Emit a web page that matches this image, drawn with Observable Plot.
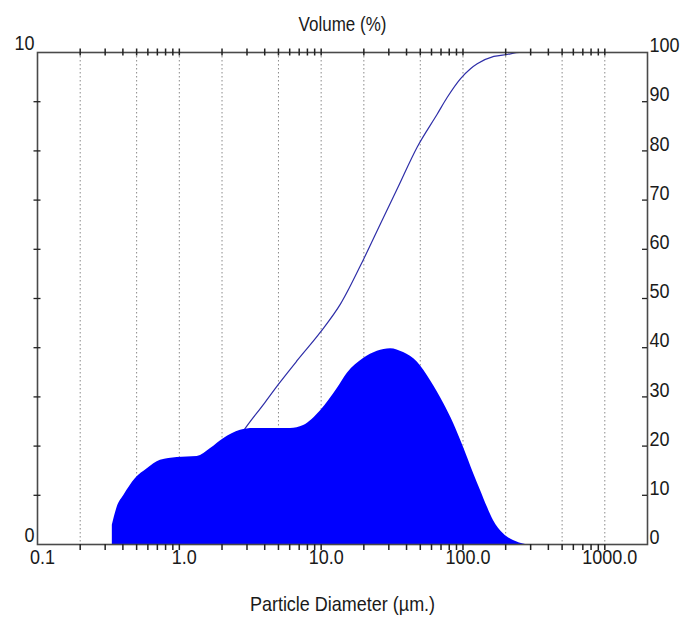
<!DOCTYPE html>
<html>
<head>
<meta charset="utf-8">
<script src="https://cdn.jsdelivr.net/npm/d3@7"></script>
<script src="https://cdn.jsdelivr.net/npm/@observablehq/plot@0.6"></script>
<style>
  html, body { margin: 0; padding: 0; background: #fff; }
  #chart svg { display: block; }
</style>
</head>
<body>
<div id="chart"></div>
<script>
// Particle size distribution: density (left axis, Volume %) and cumulative (right axis, %)
const distSize = [0.337, 0.365, 0.407, 0.491, 0.594, 0.736, 0.966, 1.337, 1.66, 2.05, 2.70, 3.34, 6.08, 7.52, 9.91, 13.0, 15.3, 19.9, 24.9, 30.9, 38.1, 47.6, 59.1, 73.0, 85.9, 101, 119, 133, 149, 164, 193, 227, 276];
const distVolume = [0.39, 0.76, 1.00, 1.34, 1.54, 1.71, 1.77, 1.79, 1.95, 2.15, 2.32, 2.36, 2.36, 2.42, 2.72, 3.17, 3.48, 3.78, 3.93, 3.98, 3.90, 3.71, 3.33, 2.87, 2.46, 1.97, 1.44, 1.10, 0.75, 0.49, 0.22, 0.08, 0.0];

const cumSize = [0.337, 0.5, 0.75, 1.0, 1.5, 2.0, 2.85, 3.95, 5.04, 6.78, 9.91, 13.7, 20.0, 26.2, 34.4, 47.6, 65.9, 77.5, 96.2, 113, 126, 165, 205, 250, 300];
const cumPercent = [0, 1.5, 3.5, 6, 11, 16, 23.2, 28.6, 32.7, 37.4, 43.2, 48.9, 58.1, 65.2, 72.3, 80.8, 87.5, 90.9, 94.7, 96.7, 97.7, 99.2, 99.6, 100, 100];

const xTickLabels = [0.1, 1, 10, 100, 1000];
const xGridValues = [0.2, 0.5, 1, 2, 5, 10, 20, 50, 100, 200, 500, 1000];
const xMinorTicks = [];
for (const dec of [0.1, 1, 10, 100]) for (let k = 2; k <= 10; k++) xMinorTicks.push(+(dec * k).toPrecision(3));
const leftLabels = [0, 10];
const leftTicks = [1, 2, 3, 4, 5, 6, 7, 8, 9];
const rightLabels = [0, 10, 20, 30, 40, 50, 60, 70, 80, 90, 100];
const rightTicks = [10, 20, 30, 40, 50, 60, 70, 80, 90];

const dist = distSize.map((s, i) => ({size: s, v: distVolume[i]}));
const cum = cumSize.map((s, i) => ({size: s, c: cumPercent[i]}));

const font = "'Liberation Sans', Arial, sans-serif";
const ink = "#1a1a1a";
const axisColor = "#4a4a4a";

const chart = Plot.plot({
  width: 681,
  height: 624,
  marginLeft: 37,
  marginRight: 34,
  marginTop: 52,
  marginBottom: 80,
  style: {fontFamily: font, fontSize: "18px", background: "#fff", color: ink},
  x: {type: "log", domain: [0.1, 2000], axis: null},
  y: {domain: [0, 10], axis: null},
  marks: [
    Plot.ruleX(xGridValues, {stroke: "#8a8a8a", strokeWidth: 1, strokeDasharray: "1.5,2.5"}),
    Plot.line(cum, {x: "size", y: d => d.c / 10, stroke: "#2e2ea8", strokeWidth: 1.2, curve: "monotone-x"}),
    Plot.areaY(dist, {x: "size", y: "v", fill: "#0000ff", curve: "monotone-x"}),
    Plot.frame({stroke: axisColor, strokeWidth: 1.6}),
    // top minor ticks (crossing)
    Plot.ruleX(xMinorTicks, {x: d => d, y1: 10, y2: 10, insetTop: -3.5, insetBottom: -3.5, stroke: "#222", strokeWidth: 1.5}),
    // bottom ticks (outward)
    Plot.ruleX(xMinorTicks, {x: d => d, y1: 0, y2: 0, insetTop: 0, insetBottom: -6, stroke: "#222", strokeWidth: 1.5}),
    // left ticks (crossing)
    Plot.ruleY(leftTicks, {y: d => d, x1: 0.1, x2: 0.1, insetLeft: -3.5, insetRight: -3.5, stroke: "#222", strokeWidth: 1.3}),
    // right ticks (inward)
    Plot.ruleY(rightTicks, {y: d => d / 10, x1: 2000, x2: 2000, insetLeft: -5, insetRight: 0, stroke: "#222", strokeWidth: 1.3}),
    // x tick labels
    Plot.text(xTickLabels, {x: d => d, frameAnchor: "bottom", dy: 19, dx: 5, text: d => d.toFixed(1), fill: ink, fontSize: 18}),
    // left labels
    Plot.text(leftLabels, {y: d => d, frameAnchor: "left", dx: -3, dy: -9, textAnchor: "end", text: d => String(d), fill: ink, fontSize: 18}),
    // right labels
    Plot.text(rightLabels, {y: d => d / 10, frameAnchor: "right", dx: 2, dy: -7, textAnchor: "start", text: d => String(d), fill: ink, fontSize: 18}),
    // titles
    Plot.text(["Volume (%)"], {frameAnchor: "top", dy: -35, text: d => d, fill: ink, fontSize: 17}),
    Plot.text(["Particle Diameter (µm.)"], {frameAnchor: "bottom", dy: 66, text: d => d, fill: ink, fontSize: 18})
  ]
});
// the reference's lettering is slightly stretched vertically
chart.querySelectorAll("text").forEach(t => {
  const tr = t.getAttribute("transform");
  if (tr) t.setAttribute("transform", tr + " scale(1,1.15)");
});
document.getElementById("chart").appendChild(chart);
</script>
</body>
</html>
